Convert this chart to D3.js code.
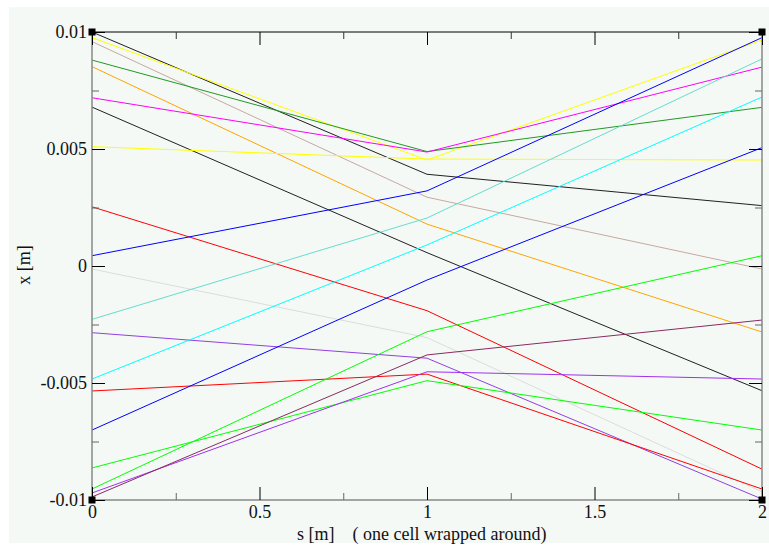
<!DOCTYPE html>
<html>
<head>
<meta charset="utf-8">
<script src="https://cdn.jsdelivr.net/npm/d3@7"></script>
<style>
  body{margin:0;background:#fff;}
  text{font-family:"Times New Roman","Liberation Serif","DejaVu Serif","Noto Serif",serif;fill:#111;}
</style>
</head>
<body>
<div id="chart"></div>
<script>
// positions along the lattice (one cell wrapped around)
var sPoints = [0, 1, 2];

// one colour per tracked particle
var lineColors = ['#202020','#ffff00','#c8a8a0','#229922','#ffa500','#ff00ff','#202020',
  '#ffff00','#ff0000','#0000ff','#dcdcdc','#66ddcc','#9040e0','#00ffff','#ff0000',
  '#0000ff','#00ff00','#00ff00','#a030f0','#8b2a60'];

// x [m] of each particle at s = 0, 1, 2
var xAtS0 = [0.0100, 0.00976, 0.00959, 0.00880, 0.00852, 0.00719, 0.00679, 0.00510, 0.00253, 0.00044,
  -0.00013, -0.00228, -0.00285, -0.00483, -0.00534, -0.00701, -0.00863, -0.00953, -0.00970, -0.00987];
var xAtS1 = [0.00392, 0.00453, 0.00294, 0.00489, 0.00179, 0.00487, 0.00057, 0.00457, -0.00191, 0.00321,
  -0.00306, 0.00205, -0.00394, 0.00090, -0.00462, -0.00060, -0.00490, -0.00281, -0.00452, -0.00380];
var xAtS2 = [0.00258, 0.00966, -0.00013, 0.00678, -0.00282, 0.00850, -0.00533, 0.00453, -0.00868, 0.00976,
  -0.00965, 0.00885, -0.00996, 0.00722, -0.00953, 0.00506, -0.00701, 0.00044, -0.00483, -0.00231];

var sTicks = [0, 0.5, 1, 1.5, 2];
var sMinor = [0.25, 0.75, 1.25, 1.75];
var xTicks = [-0.01, -0.005, 0, 0.005, 0.01];
var xMinor = [-0.0075, -0.0025, 0.0025, 0.0075];

var W = 769, H = 545;
var m = {t:32, r:7, b:45, l:92},
    w = W - m.l - m.r,
    h = H - m.t - m.b;

var serif = '"Times New Roman","Liberation Serif","DejaVu Serif","Noto Serif",serif';

var svg = d3.select('#chart').append('svg')
    .attr('width', W)
    .attr('height', H);

// mint page background
svg.append('rect')
    .attr('x', 9).attr('y', 7)
    .attr('width', W - 9).attr('height', H - 9)
    .attr('fill', '#f4f9f6');

var plot = svg.append('g')
    .attr('transform', 'translate(' + m.l + ',' + m.t + ')');

var x = d3.scaleLinear().domain([0, 2]).range([0, w]);
var y = d3.scaleLinear().domain([-0.01, 0.01]).range([h, 0]);

//build tracks from the arrays
var tracks = lineColors.map(function(c, i){
  return {color:c, pts:[xAtS0[i], xAtS1[i], xAtS2[i]]};
});

var line = d3.line()
    .x(function(d, i){ return x(sPoints[i]); })
    .y(function(d){ return y(d); });

plot.selectAll('.track')
    .data(tracks)
    .enter().append('path')
    .attr('class', 'track')
    .attr('d', function(d){ return line(d.pts); })
    .attr('fill', 'none')
    .attr('stroke', function(d){ return d.color; })
    .attr('stroke-width', 1);

//frame: grey left/bottom/right, black top
plot.append('line').attr('x1',0).attr('x2',0).attr('y1',0).attr('y2',h)
    .attr('stroke','#888').attr('stroke-width',1.5);
plot.append('line').attr('x1',0).attr('x2',w).attr('y1',h).attr('y2',h)
    .attr('stroke','#888').attr('stroke-width',1.5);
plot.append('line').attr('x1',w).attr('x2',w).attr('y1',0).attr('y2',h)
    .attr('stroke','#888').attr('stroke-width',1.5);
plot.append('line').attr('x1',0).attr('x2',w).attr('y1',0).attr('y2',0)
    .attr('stroke','#000').attr('stroke-width',1);

function styleAxis(g, col){
  g.attr('font-family', serif).attr('font-size', 18);
  g.select('.domain').remove();
  g.selectAll('line').attr('stroke', col);
  g.selectAll('text')
    .style('font-family', serif)
    .style('font-size','18px')
    .attr('fill','#111');
}

//major ticks (inward) with labels
plot.append('g')
    .call(d3.axisLeft(y).tickValues(xTicks).tickSize(-13).tickPadding(5).tickFormat(String))
    .call(styleAxis, '#000');
plot.append('g')
    .attr('transform','translate(0,' + h + ')')
    .call(d3.axisBottom(x).tickValues(sTicks).tickSize(-13).tickPadding(5).tickFormat(String))
    .call(styleAxis, '#000');
plot.append('g')
    .call(d3.axisTop(x).tickValues(sTicks).tickSize(-13).tickFormat(''))
    .call(styleAxis, '#000');
plot.append('g')
    .attr('transform','translate(' + w + ',0)')
    .call(d3.axisRight(y).tickValues(xTicks).tickSize(-13).tickFormat(''))
    .call(styleAxis, '#000');

//minor ticks
plot.append('g')
    .call(d3.axisLeft(y).tickValues(xMinor).tickSize(-7).tickFormat(''))
    .call(styleAxis, '#666');
plot.append('g')
    .attr('transform','translate(0,' + h + ')')
    .call(d3.axisBottom(x).tickValues(sMinor).tickSize(-7).tickFormat(''))
    .call(styleAxis, '#666');
plot.append('g')
    .call(d3.axisTop(x).tickValues(sMinor).tickSize(-7).tickFormat(''))
    .call(styleAxis, '#333');
plot.append('g')
    .attr('transform','translate(' + w + ',0)')
    .call(d3.axisRight(y).tickValues(xMinor).tickSize(-7).tickFormat(''))
    .call(styleAxis, '#666');

//corner markers
var corners = [[0,0],[w,0],[0,h],[w,h]];
plot.selectAll('.corner')
    .data(corners)
    .enter().append('rect')
    .attr('class','corner')
    .attr('x', function(d){ return d[0] - 3.5; })
    .attr('y', function(d){ return d[1] - 3.5; })
    .attr('width', 7).attr('height', 7)
    .attr('fill', '#000');

//axis titles
svg.append('text')
    .attr('x', 297).attr('y', 540)
    .style('font-family', serif)
    .style('font-size','18px')
    .style('white-space','pre')
    .attr('xml:space','preserve')
    .text('s [m]    ( one cell wrapped around)');

svg.append('text')
    .attr('transform','translate(30,265) rotate(-90)')
    .attr('text-anchor','middle')
    .style('font-family', serif)
    .style('font-size','18px')
    .text('x [m]');
</script>
</body>
</html>
